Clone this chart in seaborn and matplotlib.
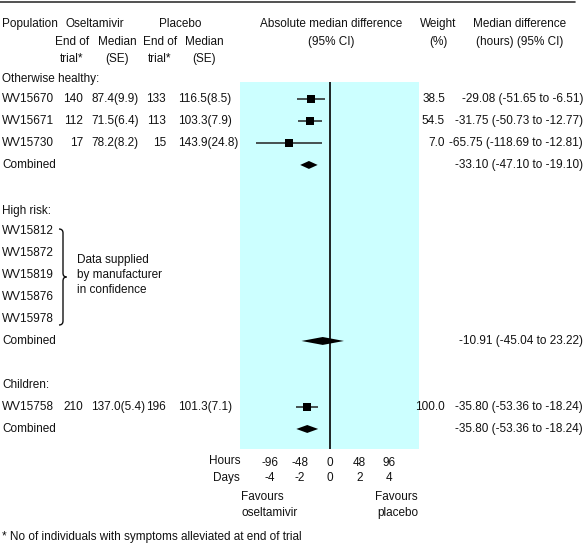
import pandas as pd
import seaborn as sns
import matplotlib.pyplot as plt
from matplotlib.transforms import blended_transform_factory
from matplotlib.path import Path
from matplotlib.patches import PathPatch

# individual trials with data
trials = ["WV15670", "WV15671", "WV15730", "WV15758"]
trial_rows = [0, 1, 2, 14]
osel_n = [140, 112, 17, 210]
osel_med = [87.4, 71.5, 78.2, 137.0]
osel_se = [9.9, 6.4, 8.2, 5.4]
plac_n = [133, 113, 15, 196]
plac_med = [116.5, 103.3, 143.9, 101.3]
plac_se = [8.5, 7.9, 24.8, 7.1]
weights = [38.5, 54.5, 7.0, 100.0]
md = [-29.08, -31.75, -65.75, -35.80]
lo = [-51.65, -50.73, -118.69, -53.36]
hi = [-6.51, -12.77, -12.81, -18.24]

# combined estimates
comb_rows = [3, 11, 15]
comb_md = [-33.10, -10.91, -35.80]
comb_lo = [-47.10, -45.04, -53.36]
comb_hi = [-19.10, 23.22, -18.24]

high_risk = ["WV15812", "WV15872", "WV15819", "WV15876", "WV15978"]
high_rows = [6, 7, 8, 9, 10]
groups = ["Otherwise healthy:", "High risk:", "Children:"]
group_rows = [-0.9, 5.1, 13.0]

hours = [-96, -48, 0, 48, 96]
days = [-4, -2, 0, 2, 4]

sns.set_style("white")
plt.rcParams['font.family'] = ['Liberation Sans', 'DejaVu Sans']
plt.rcParams['font.size'] = 8.5
plt.rcParams['text.color'] = '#111111'

W, H = 588, 546
fig = plt.figure(figsize=(W / 100, H / 100), dpi=100)

def fx(x):
    return x / W

def fy(y):
    return 1 - y / H

ax = fig.add_axes([fx(240), fy(449), fx(419) - fx(240), fy(82) - fy(449)])
ax.set_facecolor('#ccffff')
for s in ax.spines.values():
    s.set_visible(False)
ax.set_xlim(-144, 144)
ax.set_ylim(15.91, -0.77)
ax.set_yticks([])
ax.set_xticks(hours)
ax.set_xticklabels([str(h) for h in hours])
ax.tick_params(axis='x', direction='in', length=4, color='white', width=1,
               pad=5.5, labelsize=8.5, labelcolor='#111111')
ax.axvline(0, color='black', lw=1.2, zorder=3)

df = pd.DataFrame({"trial": trials, "row": trial_rows, "md": md, "lo": lo, "hi": hi})
ax.hlines(df["row"], df["lo"], df["hi"], color='#222222', lw=1.1, zorder=4)
sns.scatterplot(data=df, x="md", y="row", marker="s", s=40, color="black",
                edgecolor="black", linewidth=0, ax=ax, legend=False, zorder=5)
ax.set_xlabel("")
ax.set_ylabel("")

for r, m, l, h in zip(comb_rows, comb_md, comb_lo, comb_hi):
    ax.fill([l, m, h, m], [r, r - 0.18, r, r + 0.18], color='black', lw=0, zorder=5)

trans = blended_transform_factory(fig.transFigure, ax.transData)

def rtext(x, row, s, ha='left'):
    fig.text(fx(x), 0, s, ha=ha, va='center', transform=trans).set_y(row)

# header
fig.add_artist(plt.Line2D([0, fx(575)], [fy(2), fy(2)], color='#333333', lw=1.2))
fig.text(fx(2), fy(24), "Population", ha='left', va='center')
fig.text(fx(95), fy(24), "Oseltamivir", ha='center', va='center')
fig.text(fx(180), fy(24), "Placebo", ha='center', va='center')
for cx in [72, 160]:
    fig.text(fx(cx), fy(42), "End of", ha='center', va='center')
    fig.text(fx(cx), fy(59), "trial*", ha='center', va='center')
for cx in [117, 204]:
    fig.text(fx(cx), fy(42), "Median", ha='center', va='center')
    fig.text(fx(cx), fy(59), "(SE)", ha='center', va='center')
fig.text(fx(331), fy(24), "Absolute median difference", ha='center', va='center')
fig.text(fx(331), fy(42), "(95% CI)", ha='center', va='center')
fig.text(fx(438), fy(24), "Weight", ha='center', va='center')
fig.text(fx(438), fy(42), "(%)", ha='center', va='center')
fig.text(fx(520), fy(24), "Median difference", ha='center', va='center')
fig.text(fx(520), fy(42), "(hours) (95% CI)", ha='center', va='center')

for g, r in zip(groups, group_rows):
    rtext(2, r, g)

for i in range(len(trials)):
    r = trial_rows[i]
    rtext(2, r, trials[i])
    rtext(83, r, str(osel_n[i]), 'right')
    rtext(91, r, f"{osel_med[i]:.1f}({osel_se[i]:.1f})")
    rtext(166, r, str(plac_n[i]), 'right')
    rtext(178, r, f"{plac_med[i]:.1f}({plac_se[i]:.1f})")
    rtext(445, r, f"{weights[i]:.1f}", 'right')
    rtext(583, r, f"{md[i]:.2f} ({lo[i]:.2f} to {hi[i]:.2f})", 'right')

for r, m, l, h in zip(comb_rows, comb_md, comb_lo, comb_hi):
    rtext(2, r, "Combined")
    rtext(583, r, f"{m:.2f} ({l:.2f} to {h:.2f})", 'right')

for t, r in zip(high_risk, high_rows):
    rtext(2, r, t)

# brace for confidential trials
verts = [(59, 229), (63, 229), (63, 233), (63, 273), (63, 277), (66.5, 277),
         (63, 277), (63, 281), (63, 321), (63, 325), (59, 325)]
codes = [Path.MOVETO, Path.CURVE3, Path.CURVE3, Path.LINETO, Path.CURVE3, Path.CURVE3,
         Path.CURVE3, Path.CURVE3, Path.LINETO, Path.CURVE3, Path.CURVE3]
brace = Path([(fx(x), fy(y)) for x, y in verts], codes)
fig.add_artist(PathPatch(brace, transform=fig.transFigure, fill=False, lw=1, color='#111111'))
fig.text(fx(77), fy(260), "Data supplied", ha='left', va='center')
fig.text(fx(77), fy(275), "by manufacturer", ha='left', va='center')
fig.text(fx(77), fy(290), "in confidence", ha='left', va='center')

# axis labels below
fig.text(fx(240), fy(461), "Hours", ha='right', va='center')
fig.text(fx(240), fy(478), "Days", ha='right', va='center')
dtrans = blended_transform_factory(ax.transData, fig.transFigure)
for h, d in zip(hours, days):
    ax.text(h, fy(478), str(d), ha='center', va='center', transform=dtrans)
fig.text(fx(241), fy(497), "Favours", ha='left', va='center')
fig.text(fx(241), fy(513), "oseltamivir", ha='left', va='center')
fig.text(fx(418), fy(497), "Favours", ha='right', va='center')
fig.text(fx(418), fy(513), "placebo", ha='right', va='center')

fig.text(fx(2), fy(537), "* No of individuals with symptoms alleviated at end of trial",
         ha='left', va='center')

fig.savefig("out.png", dpi=100)
